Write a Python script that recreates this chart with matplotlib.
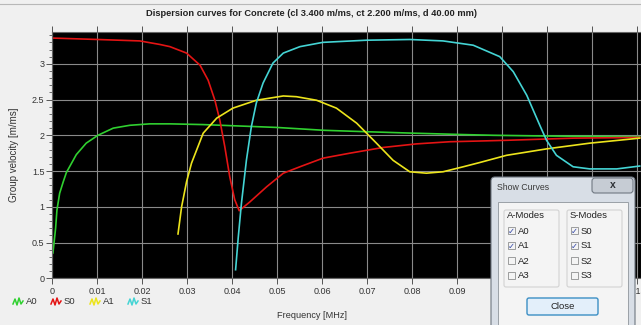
"""Dispersion curves for concrete plate, recreated from screenshot"""
import numpy as np
import matplotlib
matplotlib.use("Agg")
import matplotlib.pyplot as plt
import matplotlib.patches as mpatches
from matplotlib.ticker import MultipleLocator

plt.rcParams["font.family"] = ["Liberation Sans", "DejaVu Sans"]

# ─── data (frequency MHz, group velocity m/ms) ───
a0_f = [0.0, 0.0002, 0.0008, 0.0011, 0.0017, 0.0025, 0.0032, 0.0047,
        0.0054, 0.0076, 0.0102, 0.0136, 0.0173, 0.0217, 0.0262, 0.0335, 0.0499,
        0.0604, 0.0699, 0.0801, 0.0915, 0.0982, 0.1099, 0.1306]
a0_v = [0.35, 0.35, 0.70, 0.955, 1.19, 1.35, 1.48, 1.65,
        1.73, 1.89, 2.00, 2.10, 2.14, 2.16, 2.16, 2.15, 2.11,
        2.07, 2.05, 2.03, 2.01, 2.00, 1.99, 1.98]

s0_f = [0.0, 0.0102, 0.0195, 0.0240, 0.0262, 0.0299, 0.0329, 0.0347, 0.0362,
        0.0373, 0.0384, 0.0395, 0.0406, 0.0416, 0.0440, 0.0477, 0.0514, 0.0551,
        0.0602, 0.0662, 0.0736, 0.0810, 0.0884, 0.0950, 0.1010, 0.1158, 0.1306]
s0_v = [3.36, 3.34, 3.32, 3.27, 3.24, 3.15, 2.98, 2.77, 2.49,
        2.21, 1.84, 1.42, 1.10, 0.945, 1.07, 1.28, 1.47, 1.56,
        1.68, 1.75, 1.83, 1.88, 1.91, 1.92, 1.93, 1.96, 1.97]

a1_f = [0.0280, 0.0288, 0.0299, 0.0310, 0.0336, 0.0366, 0.0402, 0.0454,
        0.0514, 0.0543, 0.0588, 0.0632, 0.0677, 0.0721, 0.0758, 0.0795, 0.0832,
        0.0869, 0.0914, 0.0951, 0.1010, 0.1099, 0.1195, 0.1306]
a1_v = [0.62, 1.00, 1.35, 1.61, 2.03, 2.24, 2.38, 2.49,
        2.55, 2.54, 2.49, 2.38, 2.17, 1.89, 1.65, 1.49, 1.47,
        1.49, 1.56, 1.62, 1.72, 1.81, 1.89, 1.96]

s1_f = [0.0408, 0.0414, 0.0421, 0.0432, 0.0443, 0.0454, 0.0469, 0.0491, 0.0514,
        0.0551, 0.0602, 0.0699, 0.0795, 0.0869, 0.0936, 0.0995, 0.1025, 0.1055,
        0.1084, 0.1099, 0.1121, 0.1158, 0.1195, 0.1255, 0.1306]
s1_v = [0.12, 0.58, 1.05, 1.65, 2.12, 2.45, 2.73, 3.01, 3.15,
        3.24, 3.30, 3.33, 3.34, 3.32, 3.26, 3.10, 2.89, 2.56,
        2.14, 1.93, 1.72, 1.56, 1.53, 1.53, 1.57]

curves = [("A0", a0_f, a0_v, "#30d030"),
          ("S0", s0_f, s0_v, "#e41414"),
          ("A1", a1_f, a1_v, "#ece41c"),
          ("S1", s1_f, s1_v, "#44d4d4")]

W, H = 641, 325
fig = plt.figure(figsize=(W / 100, H / 100), dpi=100)
fig.patch.set_facecolor("#f0f0f0")

# plot area: x=0 at px 52, y=0 at px 278.3, 45 px per 0.01 MHz, 71.5 px per m/ms
ax = fig.add_axes([52 / W, (H - 278.3) / H, 1 - 52 / W, (278.3 - 32) / H])
ax.set_facecolor("black")
for name, f, v, c in curves:
    ax.plot(f, v, color=c, lw=1.2, solid_joinstyle="round")

ax.set_xlim(0, (W - 52) / 4500)
ax.set_ylim(0, (278.3 - 32) / 71.5)
ax.xaxis.set_major_locator(MultipleLocator(0.01))
ax.yaxis.set_major_locator(MultipleLocator(0.5))
ax.yaxis.set_minor_locator(MultipleLocator(0.1))
ax.xaxis.set_major_formatter(lambda x, p: "0" if abs(x) < 1e-9 else f"{x:.2f}".rstrip("0"))
ax.yaxis.set_major_formatter(lambda y, p: f"{y:g}")
ax.grid(True, color="#8a8a8a", lw=0.8)
ax.tick_params(axis="x", which="both", top=True, bottom=True, direction="out",
               length=4, width=0.7, color="#555555", labelsize=6.5,
               labelcolor="#333333", pad=2)
ax.tick_params(axis="y", which="major", direction="out", length=4, width=0.7,
               color="#555555", labelsize=6.5, labelcolor="#333333", pad=1.5)
ax.tick_params(axis="y", which="minor", direction="out", length=2, width=0.6,
               color="#555555")
for s in ax.spines.values():
    s.set_color("#666666")
    s.set_linewidth(0.8)

# ─── overlay in pixel coordinates for window decorations ───
ov = fig.add_axes([0, 0, 1, 1], zorder=10)
ov.set_xlim(0, W); ov.set_ylim(H, 0); ov.axis("off")

ov.plot([0, W], [4, 4], color="#b8b8b8", lw=0.8)
ov.text(311, 14, "Dispersion curves for Concrete (cl 3.400 m/ms, ct 2.200 m/ms, d 40.00 mm)",
        ha="center", va="center", fontsize=6.7, fontweight="bold", color="#222222")
ov.text(14, 155, "Group velocity [m/ms]", rotation=90, ha="center", va="center",
        fontsize=7.0, color="#333333")
ov.text(312, 316, "Frequency [MHz]", ha="center", va="center", fontsize=6.6, color="#333333")

# legend with little wave icons
zig_x = np.array([0, 2, 4, 6, 8, 10])
zig_y = np.array([2, -3, 3, -4, 2, -1])
leg_x = [13, 51, 90, 128]
for (name, f, v, c), lx in zip(curves, leg_x):
    ov.plot(lx + zig_x, 302 + zig_y, color=c, lw=1.1)
    ov.text(lx + 13, 302, name, ha="left", va="center", fontsize=6.8, color="#333333")

# ─── "Show Curves" dialog ───
ov.add_patch(mpatches.FancyBboxPatch((491, 177), 144, 160, boxstyle="round,pad=0,rounding_size=4",
                                     fc="#d8dee6", ec="#6e7680", lw=0.8))
ov.text(497, 188, "Show Curves", ha="left", va="center", fontsize=6.3, color="#3a3a3a")
ov.add_patch(mpatches.FancyBboxPatch((592, 178), 41, 15, boxstyle="round,pad=0,rounding_size=3",
                                     fc="#c6ccd4", ec="#707882", lw=0.8))
ov.text(612.5, 185.5, "x", ha="center", va="center", fontsize=7.5, fontweight="bold",
        color="#2e3136")
ov.add_patch(mpatches.Rectangle((498, 202), 130, 135, fc="#f4f4f4", ec="#9aa0a6", lw=0.7))

for gx, title, names, checked in [(504, "A-Modes", ["A0", "A1", "A2", "A3"], [True, True, False, False]),
                                  (567, "S-Modes", ["S0", "S1", "S2", "S3"], [True, True, False, False])]:
    ov.add_patch(mpatches.FancyBboxPatch((gx, 210), 55, 77, boxstyle="round,pad=0,rounding_size=2",
                                         fc="none", ec="#d2d2d2", lw=0.8))
    ov.text(gx + 3, 215.5, title, ha="left", va="center", fontsize=6.8, color="#222222")
    for k, (nm, ck) in enumerate(zip(names, checked)):
        yy = 231 + 15 * k
        ov.add_patch(mpatches.Rectangle((gx + 4, yy - 4), 7, 7, fc="#f4f4f4", ec="#8e8f8f", lw=0.6))
        if ck:
            ov.text(gx + 7.5, yy, "✓", ha="center", va="center", fontsize=6,
                    color="#3548a8", family="DejaVu Sans")
        ov.text(gx + 14, yy, nm, ha="left", va="center", fontsize=6.8, color="#222222")

ov.add_patch(mpatches.FancyBboxPatch((527, 298), 71, 17, boxstyle="round,pad=0,rounding_size=2",
                                     fc="#e3effa", ec="#3c8fc4", lw=1.0))
ov.text(562.5, 306.5, "Close", ha="center", va="center", fontsize=6.8, color="#222222")

fig.savefig("out.png", dpi=100, facecolor=fig.get_facecolor())
plt.close()
